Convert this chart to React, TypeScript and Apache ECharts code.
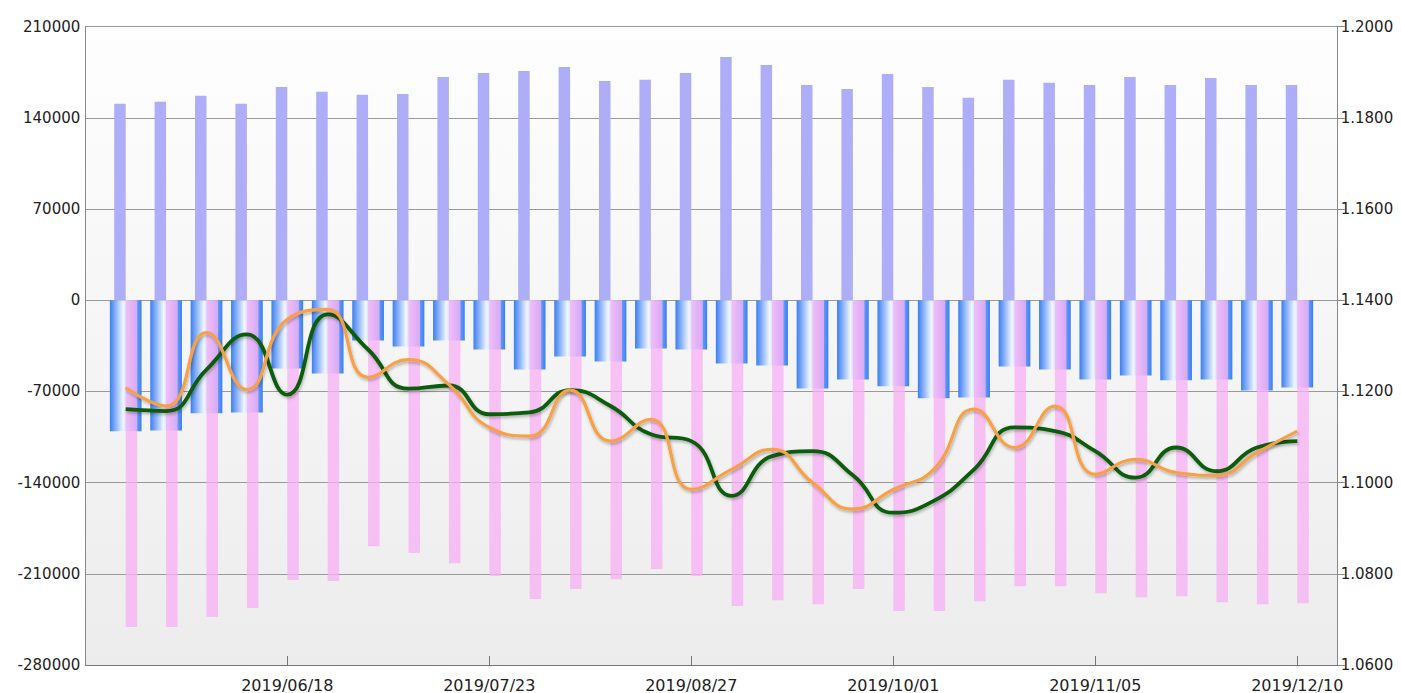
import React, { useEffect, useRef } from 'react';
import * as echarts from 'echarts';

const dates = [
  '2019/05/21', '2019/05/28', '2019/06/04', '2019/06/11', '2019/06/18', '2019/06/25',
  '2019/07/02', '2019/07/09', '2019/07/16', '2019/07/23', '2019/07/30', '2019/08/06',
  '2019/08/13', '2019/08/20', '2019/08/27', '2019/09/03', '2019/09/10', '2019/09/17',
  '2019/09/24', '2019/10/01', '2019/10/08', '2019/10/15', '2019/10/22', '2019/10/29',
  '2019/11/05', '2019/11/12', '2019/11/19', '2019/11/26', '2019/12/03', '2019/12/10',
];

const longPos = [
  150800, 152300, 157000, 150800, 163800, 160000, 157700, 158400, 171400, 174500,
  176000, 179100, 168400, 169200, 174500, 186800, 180600, 165300, 162200, 173700,
  163800, 155400, 169200, 166900, 165300, 171400, 165300, 170700, 165300, 165300,
];

const shortPos = [
  -250900, -250900, -243200, -236300, -214800, -215600, -188800, -194100, -201800, -211700,
  -229400, -221700, -214100, -206400, -211700, -234800, -230200, -233300, -221700, -238600,
  -238600, -231000, -219500, -219500, -224900, -228000, -227200, -231800, -233300, -232600,
];

const netPos = [
  -100600, -99900, -86800, -86100, -52300, -56200, -30900, -35500, -30900, -37800,
  -53100, -43100, -47000, -37000, -37800, -48500, -50000, -67700, -60800, -66100,
  -75300, -74600, -50800, -53100, -60800, -57700, -61500, -60800, -69200, -66900,
];

const rateGreen = [
  1.1161, 1.1157, 1.1248, 1.1325, 1.1193, 1.1369, 1.1292, 1.1206, 1.1213, 1.1150,
  1.1154, 1.1203, 1.1168, 1.1106, 1.1091, 1.0971, 1.1058, 1.1069, 1.1016, 1.0934,
  1.0960, 1.1029, 1.1121, 1.1113, 1.1069, 1.1011, 1.1077, 1.1025, 1.1077, 1.1091,
];

const rateOrange = [
  1.1208, 1.1168, 1.1329, 1.1204, 1.1358, 1.1380, 1.1231, 1.1270, 1.1215, 1.1121,
  1.1102, 1.1203, 1.1091, 1.1139, 1.0985, 1.1029, 1.1073, 1.1000, 1.0942, 1.0985,
  1.1029, 1.1161, 1.1077, 1.1168, 1.1018, 1.1051, 1.1022, 1.1016, 1.1066, 1.1113,
];

const leftAxis = { min: -280000, max: 210000, interval: 70000 };
const rightAxis = { min: 1.06, max: 1.2, interval: 0.02 };

// one empty slot before and after the weekly categories
const cats = [' ', ...dates, '  '];
const pad = (arr: number[]) => ['-', ...arr, '-'];
const shown = (index: number) => index >= 1 && index <= dates.length && (index - 1) % 5 === 4;

const FONT = 'DejaVu Sans';

export default function App() {
  const ref = useRef<HTMLDivElement>(null);
  useEffect(() => {
    document.body.style.margin = '0';
    const chart = echarts.init(ref.current as HTMLDivElement, null, { renderer: 'svg' });
    const lineShadow = {
      shadowColor: 'rgba(0,0,0,0.28)',
      shadowBlur: 3,
      shadowOffsetX: 1,
      shadowOffsetY: 2,
    };
    chart.setOption({
      animation: false,
      textStyle: { fontFamily: FONT },
      grid: {
        left: 85.3,
        right: 63.3,
        top: 26.7,
        bottom: 27,
        show: true,
        borderWidth: 0,
        backgroundColor: new echarts.graphic.LinearGradient(0, 0, 0, 1, [
          { offset: 0, color: '#fefefe' },
          { offset: 1, color: '#ececec' },
        ]),
      },
      xAxis: [
        {
          type: 'category',
          data: cats,
          boundaryGap: false,
          axisLine: { show: true, onZero: false, lineStyle: { color: '#777', width: 1 } },
          axisTick: { show: true, inside: true, length: 9, interval: shown, lineStyle: { color: '#777' } },
          axisLabel: {
            interval: shown,
            margin: 12,
            fontSize: 16,
            color: '#222',
            fontFamily: FONT,
          },
          splitLine: { show: false },
        },
        {
          type: 'category',
          data: cats,
          boundaryGap: false,
          show: false,
        },
      ],
      yAxis: [
        {
          type: 'value',
          min: leftAxis.min,
          max: leftAxis.max,
          interval: leftAxis.interval,
          axisLine: { show: true, lineStyle: { color: '#888' } },
          axisTick: { show: false },
          axisLabel: {
            margin: 5,
            fontSize: 15,
            color: '#222',
            fontFamily: FONT,
            formatter: (v: number) => String(v),
          },
          splitLine: { show: true, lineStyle: { color: '#999', width: 1 } },
        },
        {
          type: 'value',
          min: rightAxis.min,
          max: rightAxis.max,
          interval: rightAxis.interval,
          position: 'right',
          axisLine: { show: true, lineStyle: { color: '#888' } },
          axisTick: { show: true, length: 7, lineStyle: { color: '#888' } },
          axisLabel: {
            margin: 3,
            fontSize: 15,
            color: '#222',
            fontFamily: FONT,
            formatter: (v: number) => v.toFixed(4),
          },
          splitLine: { show: false },
        },
      ],
      series: [
        {
          name: 'net',
          type: 'bar',
          xAxisIndex: 1,
          yAxisIndex: 0,
          barWidth: 31.7,
          z: 1,
          data: pad(netPos),
          itemStyle: {
            color: new echarts.graphic.LinearGradient(0, 0, 1, 0, [
              { offset: 0, color: '#3a7ef3' },
              { offset: 0.42, color: '#f2f6ff' },
              { offset: 1, color: '#3a7ef3' },
            ]),
          },
        },
        {
          name: 'long',
          type: 'bar',
          xAxisIndex: 0,
          yAxisIndex: 0,
          barWidth: 11.5,
          barGap: '0%',
          z: 2,
          data: pad(longPos),
          itemStyle: { color: '#adadf8' },
        },
        {
          name: 'short',
          type: 'bar',
          xAxisIndex: 0,
          yAxisIndex: 0,
          barWidth: 11.5,
          barGap: '0%',
          z: 2,
          data: pad(shortPos),
          itemStyle: { color: 'rgb(249,176,245)', opacity: 0.76 },
        },
        {
          name: 'green',
          type: 'line',
          xAxisIndex: 0,
          yAxisIndex: 1,
          smooth: 0.5,
          showSymbol: false,
          symbol: 'none',
          z: 5,
          data: pad(rateGreen),
          lineStyle: { color: '#0b5c0b', width: 3.8, ...lineShadow },
        },
        {
          name: 'orange',
          type: 'line',
          xAxisIndex: 0,
          yAxisIndex: 1,
          smooth: 0.5,
          showSymbol: false,
          symbol: 'none',
          z: 6,
          data: pad(rateOrange),
          lineStyle: { color: '#f7a046', width: 3.2, ...lineShadow },
        },
      ],
    });
    return () => chart.dispose();
  }, []);
  return <div ref={ref} style={{ width: 1401, height: 693 }} />;
}
